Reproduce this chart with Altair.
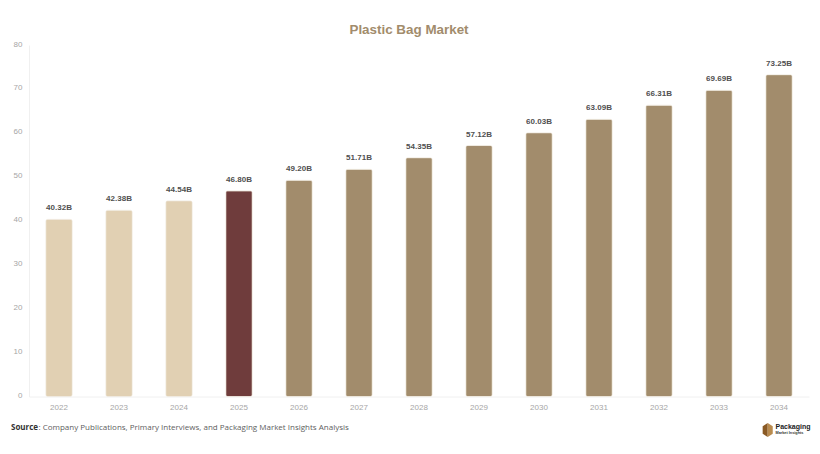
import altair as alt
import pandas as pd

years = ["2022", "2023", "2024", "2025", "2026", "2027", "2028", "2029", "2030", "2031", "2032", "2033", "2034"]
values = [40.32, 42.38, 44.54, 46.80, 49.20, 51.71, 54.35, 57.12, 60.03, 63.09, 66.31, 69.69, 73.25]
labels = ["40.32B", "42.38B", "44.54B", "46.80B", "49.20B", "51.71B", "54.35B", "57.12B", "60.03B", "63.09B", "66.31B", "69.69B", "73.25B"]
periods = ["past", "past", "past", "base", "future", "future", "future", "future", "future", "future", "future", "future", "future"]
y_ticks = [0, 10, 20, 30, 40, 50, 60, 70, 80]

period_names = ["past", "base", "future"]
period_colors = ["#E1D0B3", "#6F3C3C", "#A28C6C"]

FONT = "Liberation Sans"

df = pd.DataFrame({"year": years, "value": values, "label": labels, "period": periods})

base = alt.Chart(df).encode(
    x=alt.X("year:N", sort=years, title=None,
            scale=alt.Scale(paddingInner=0.56, paddingOuter=0.28),
            axis=alt.Axis(labelAngle=0, labelColor="#A6A6A6", labelFont=FONT, labelFontSize=8,
                          labelPadding=7, ticks=False, domainColor="#F0F0F0", domainWidth=1)),
    y=alt.Y("value:Q", title=None,
            scale=alt.Scale(domain=[0, 80]),
            axis=alt.Axis(values=y_ticks, grid=False, ticks=False, labelColor="#A6A6A6", labelFont=FONT,
                          labelFontSize=8, labelPadding=7, labelOffset=-1, domainColor="#F0F0F0", domainWidth=1)),
)

bars = base.mark_bar(size=26.5, cornerRadius=2, stroke="#EFE8DC", strokeWidth=0.6).encode(
    color=alt.Color("period:N", scale=alt.Scale(domain=period_names, range=period_colors), legend=None),
)

bar_labels = base.mark_text(dy=-11, font=FONT, fontSize=8, fontWeight="bold", color="#505050").encode(
    text="label:N",
)


def note(text, x, y, size, color, weight="normal", font="Open Sans"):
    return alt.Chart(pd.DataFrame({"text": [text]})).mark_text(
        align="left", baseline="middle", font=font, fontSize=size, fontWeight=weight, color=color
    ).encode(x=alt.value(x), y=alt.value(y), text="text:N")


def logo_part(path, color):
    return alt.Chart(pd.DataFrame({"a": [1]})).mark_point(
        shape=path, filled=True, opacity=1, size=196, color=color
    ).encode(x=alt.value(738.7), y=alt.value(385))


source_bold = note("Source", -18, 382.7, 8, "#333333", "bold")
source_rest = note(": Company Publications, Primary Interviews, and Packaging Market Insights Analysis",
                   9.5, 382.7, 8, "#606060")

logo_left = logo_part("M0,-1L-0.72,-0.55L-0.72,0.55L0,1Z", "#8A5A24")
logo_right = logo_part("M0,-1L0.72,-0.55L0.72,0.55L0,1Z", "#B98B4E")
logo_name = note("Packaging", 746.5, 382.3, 7, "#222222", "bold", FONT)
logo_sub = note("Market Insights", 746.5, 388.2, 3.8, "#333333", "bold", FONT)

chart = alt.layer(
    bars, bar_labels, source_bold, source_rest, logo_left, logo_right, logo_name, logo_sub
).properties(
    width=780,
    height=351.5,
    title=alt.TitleParams("Plastic Bag Market", font=FONT, fontSize=13.4, fontWeight="bold",
                          color="#A28C6C", anchor="middle", dx=-10, offset=4),
    autosize=alt.AutoSizeParams(type="none"),
    padding={"left": 21, "top": 37, "right": 3, "bottom": 49},
).configure_view(stroke=None)

chart.save("out.html", embed_options={"renderer": "svg", "actions": False})
